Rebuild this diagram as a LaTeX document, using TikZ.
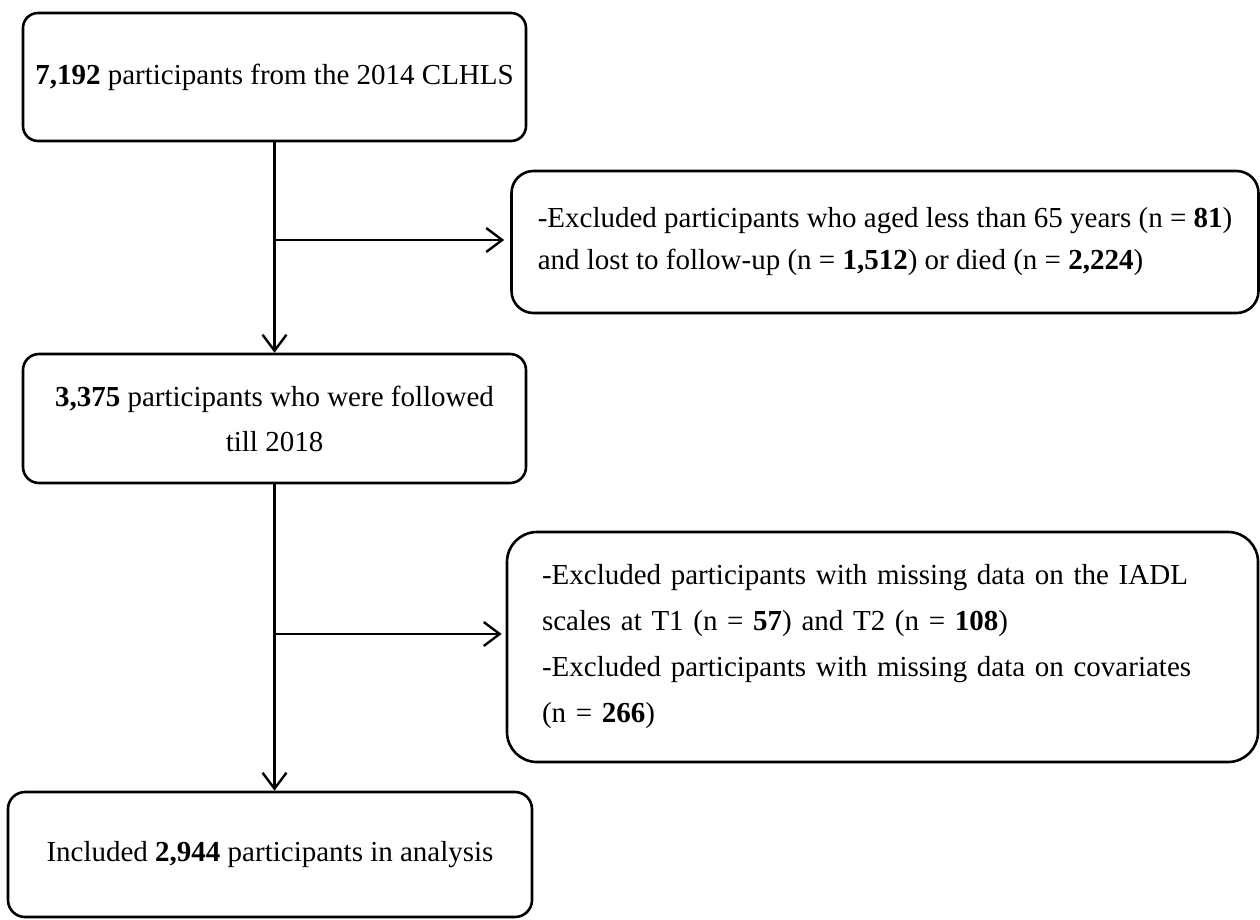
\documentclass[tikz,border=0pt]{standalone}
\usepackage{fontspec}
\setmainfont{Liberation Serif}
\usetikzlibrary{arrows.meta}

\begin{document}
\begin{tikzpicture}[x=1pt, y=-1pt, every node/.style={font=\fontsize{29}{44}\selectfont, inner sep=0pt}, >={Straight Barb[length=16pt, width=24pt]},
	flowbox/.style={draw, line width=2.6pt, align=center},
	flowline/.style={line width=2.4pt}]
	\useasboundingbox (0,0) rectangle (1260,919);
	\node[flowbox, rounded corners=15pt, minimum width=503pt, minimum height=128pt] (start) at (274.5,77) {\textbf{7,192} participants from the 2014 CLHLS};
	\node[flowbox, align=left, font=\fontsize{29}{42}\selectfont, rounded corners=22pt, minimum width=747pt, minimum height=142pt] (excl1) at (885,242) {-Excluded participants who aged less than 65 years (n = \textbf{81})\\and lost to follow-up (n = \textbf{1,512}) or died (n = \textbf{2,224})};
	\node[flowbox, font=\fontsize{29}{45}\selectfont, rounded corners=16pt, minimum width=503pt, minimum height=129pt] (followed) at (274.5,418.5) {\textbf{3,375} participants who were followed\\till 2018};
	\node[flowbox, align=left, font=\fontsize{29}{46}\selectfont, text width=681pt, inner xsep=35pt, rounded corners=30pt, minimum width=751pt, minimum height=230pt] (excl2) at (882.5,647) {-Excluded participants with missing data on the IADL\\scales at T1 (n = \textbf{57}) and T2 (n = \textbf{108})\\-Excluded participants with missing data on covariates\\(n = \textbf{266})};
	\node[flowbox, rounded corners=17pt, minimum width=524pt, minimum height=125pt] (included) at (270,854.5) {Included \textbf{2,944} participants in analysis};
	% main flow
	\draw[flowline, ->] (start) -- (followed);
	\draw[flowline, ->] (followed) -- (followed.south |- included.north);
	% exclusions
	\coordinate (j1) at (274.5,240);
	\coordinate (j2) at (274.5,634);
	\draw[flowline, ->, shorten >=6pt] (j1) -- (j1 -| excl1.west);
	\draw[flowline, ->, shorten >=4pt] (j2) -- (j2 -| excl2.west);
\end{tikzpicture}
\end{document}
